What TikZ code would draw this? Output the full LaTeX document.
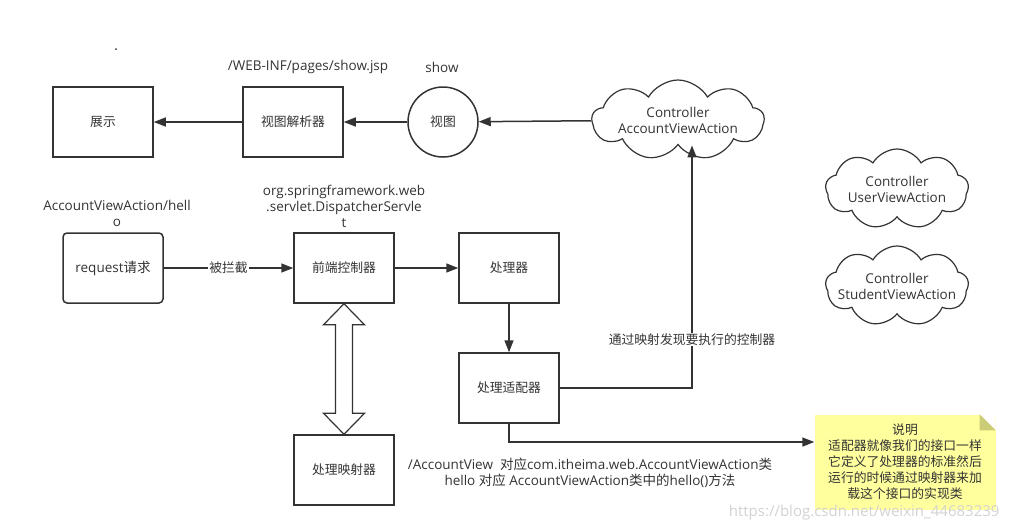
\documentclass[tikz,border=0pt]{standalone}
\usepackage{fontspec}
\setmainfont{Open Sans}
\newfontfamily\zh{Noto Sans CJK SC}
\usetikzlibrary{positioning, shapes.symbols, arrows.meta, calc}
\definecolor{ink}{HTML}{333333}
\definecolor{notefill}{HTML}{FFFF9E}
\definecolor{noteear}{HTML}{CCCC77}

\begin{document}
\begin{tikzpicture}[x=1pt, y=-1pt,
    every node/.style={text=ink, font=\fontsize{13.5}{16}\selectfont, align=center},
    zhtext/.style={font=\zh\fontsize{12.8}{16}\selectfont},
    box/.style={draw=ink, line width=1.5pt, minimum width=100pt, minimum height=70pt, zhtext},
    rbox/.style={box, rounded corners=4pt},
    cloudbox/.style={cloud, cloud puffs=9, cloud puff arc=120, cloud ignores aspect, draw=ink, line width=1.2pt, inner xsep=-20pt, inner ysep=0pt},
    flow/.style={draw=ink, line width=1.5pt, -{Triangle[width=9pt,length=12pt]}}]

    \useasboundingbox (0,0) rectangle (1009,531);

    % top row
    \node[box] (display) at (103,122) {展示};
    \node[box] (resolver) at (293,122) {视图解析器};
    \node[draw=ink, circle, line width=1.5pt, minimum size=70pt, zhtext] (view) at (443,122) {视图};
    \node[cloudbox, minimum width=172pt, minimum height=80pt] (ctrl) at (678,120) {Controller\\AccountViewAction};
    \node (jsp) at (308,67) {/WEB-INF/pages/show.jsp};
    \node (viewname) at (442,67) {show};
    \fill[ink] (116,49) circle (1pt);

    % other controllers
    \node[cloudbox, minimum width=143pt, minimum height=80pt] (userctrl) at (897,189) {Controller\\UserViewAction};
    \node[cloudbox, minimum width=143pt, minimum height=80pt] (studentctrl) at (897,286) {Controller\\StudentViewAction};

    % middle row
    \node[rbox, font=\fontsize{13.5}{16}\selectfont] (req) at (113,268) {request{\zh 请求}};
    \node[box] (front) at (344,268) {前端控制器};
    \node[box] (handler) at (509,268) {处理器};
    \node[box] (adapter) at (509,388) {处理适配器};
    \node[box] (mapper) at (344,470) {处理映射器};
    \node (reqpath) at (117,213) {AccountViewAction/hell\\o};
    \node (servlet) at (344,206) {org.springframework.web\\.servlet.DispatcherServle\\t};
    \node (mapping) at (590,473) {/AccountView\ \ {\zh 对应}com.itheima.web.AccountViewAction{\zh 类}\\hello {\zh 对应} AccountViewAction{\zh 类中的}hello(){\zh 方法}};

    % note
    \node[fill=notefill, minimum width=181pt, minimum height=95pt, zhtext] (note) at (905,462) {说明\\适配器就像我们的接口一样\\它定义了处理器的标准然后\\运行的时候通过映射器来加\\载这个接口的实现类};
    \fill[white] (note.north east) -- ++(-16,0) -- ++(16,16) -- cycle;
    \fill[noteear] ($(note.north east)+(-16,0)$) -- ++(0,16) -- ++(16,0) -- cycle;

    \draw[flow] (ctrl) -- (view);
    \draw[flow] (view) -- (resolver);
    \draw[flow] (resolver) -- (display);
    \draw[flow] (req) -- node[fill=white, inner sep=1pt, zhtext] {被拦截} (front);
    \draw[flow] (front) -- (handler);
    \draw[flow] (handler) -- (adapter);

    \coordinate (upturn) at (692,388);
    \draw[flow] (adapter.east) -- (upturn) -- node[pos=0.2, fill=white, inner sep=1pt, zhtext] {通过映射发现要执行的控制器} (upturn |- ctrl.south);
    \coordinate (lowturn) at (509,442);
    \draw[flow] (adapter.south) -- (lowturn) -- (lowturn -| note.west);

    % hollow double arrow
    \draw[ink, line width=1.2pt, fill=white] (front.south) -- ++(20.5,21) -- ++(-12,0)
        -- ($(mapper.north)+(8.5,-21)$) -- ++(12,0) -- (mapper.north) -- ++(-20.5,-21)
        -- ++(12,0) -- ($(front.south)+(-8.5,21)$) -- ++(-12,0) -- cycle;

    \node[text=gray!35, font=\fontsize{15}{18}\selectfont, anchor=east] (mark) at (1003,513) {https://blog.csdn.net/weixin\_44683239};
\end{tikzpicture}
\end{document}
